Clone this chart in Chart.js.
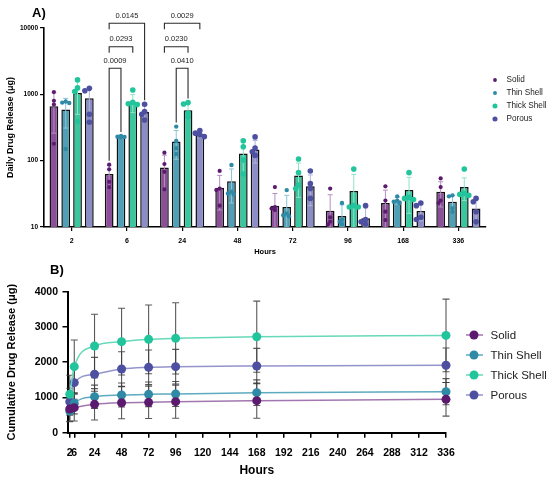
<!DOCTYPE html>
<html><head><meta charset="utf-8">
<script src="https://cdn.jsdelivr.net/npm/chart.js@4.4.0/dist/chart.umd.min.js"></script>
<style>
html,body{margin:0;padding:0;background:#fff;}
#wrap{width:550px;height:480px;position:relative;overflow:hidden;}
canvas{position:absolute;left:0;}
</style></head><body>
<div id="wrap">
<canvas id="chartA" width="550" height="262" style="top:0"></canvas>
<canvas id="chartB" width="550" height="218" style="top:262px"></canvas>
</div>
<script>
// ---------------- DATA ----------------
const seriesNames = ['Solid', 'Thin Shell', 'Thick Shell', 'Porous'];

// Panel A: daily release (log axis)
const hoursA = ['2', '6', '24', '48', '72', '96', '168', '336'];
const ticksA = [10, 100, 1000, 10000];
const dailyMeanSolid  = [660, 63, 79, 39, 21, 17.6, 23, 34];
const dailyMeanThin   = [590, 230, 195, 49, 20, 14.6, 25, 24];
const dailyMeanThick  = [1050, 760, 575, 128, 60, 35, 36, 40];
const dailyMeanPorous = [870, 540, 247, 147, 41, 13.5, 17.4, 19];
const dailySdSolid  = [400, 22, 42, 21, 11, 13, 13, 14];
const dailySdThin   = [280, 5, 90, 26, 10, 7, 3, 6];
const dailySdThick  = [550, 230, 150, 65, 32, 27, 20, 15];
const dailySdPorous = [380, 130, 25, 55, 20, 6, 5, 7];
const dailyPtsSolid  = [[1080,800,700,180],[87,74,48,40],[132,89,68,37],[70,38,36,21],[40,20,19,18],[38,14,12,11],[41,25,17,12.7],[54,40,25,23]];
const dailyPtsThin   = [[780,750,740,150],[235,230,228,225],[326,198,154,126],[86,34,32,31],[36,16,15,14.5],[23,13,12,11],[29,25,24,23],[30,29,19,17]];
const dailyPtsThick  = [[1650,1250,1100,390],[1160,760,720,700],[750,715,520,450],[200,162,102,63],[106,66,43,38],[75,21,20,20],[66,28,27,26],[75,32,31,30]];
const dailyPtsPorous = [[1230,1130,500,380],[710,550,500,410],[285,260,245,230],[228,155,136,120],[70,45,38,27],[21,13,12,11],[23,21,14,13],[27,24,17,12]];
// significance brackets: category index, series a, series b, label
const sigCats   = [1, 1, 1, 2, 2, 2];
const sigA      = [0, 0, 0, 0, 0, 1];
const sigB      = [3, 2, 1, 3, 2, 2];
const sigLabels = ['0.0145', '0.0293', '0.0009', '0.0029', '0.0230', '0.0410'];

// Panel B: cumulative release
const hoursB = [2, 6, 24, 48, 72, 96, 168, 336];
const ticksBx = [2, 6, 24, 48, 72, 96, 120, 144, 168, 192, 216, 240, 264, 288, 312, 336];
const cumSolid  = [672, 710, 805, 851, 862, 880, 908, 947];
const cumThin   = [615, 834, 1021, 1070, 1089, 1098, 1135, 1163];
const cumThick  = [1090, 1873, 2460, 2582, 2648, 2677, 2723, 2760];
const cumPorous = [880, 1420, 1657, 1807, 1855, 1873, 1892, 1912];
const cumSdSolid  = [360, 380, 445, 455, 460, 470, 500, 477];
const cumSdThin   = [290, 300, 330, 340, 350, 355, 365, 370];
const cumSdThick  = [540, 757, 900, 947, 975, 1011, 1010, 1030];
const cumSdPorous = [380, 470, 480, 490, 490, 490, 500, 490];

// ---------------- STYLE ----------------
const FAM = '"Liberation Sans", Arial, Helvetica, sans-serif';
const css = (s, w) => `${w || 'normal'} ${s}px ${FAM}`;
const dotCols  = ['#5c1a6f', '#2f8aa6', '#22c49b', '#4d4fa0'];
const barCols  = ['#8b4f99', '#4fa0b6', '#3ac79e', '#8c8dc6'];
const errCols  = ['#b48fc2', '#8cc5d5', '#8fe2ca', '#b2b3dc'];
const lineCols = ['#a277b0', '#5eaac0', '#66d9b8', '#9394cc'];
const dotR     = [2.1, 2.2, 2.8, 2.8];
Chart.defaults.font.family = FAM;

const meansA = [dailyMeanSolid, dailyMeanThin, dailyMeanThick, dailyMeanPorous];
const sdsA   = [dailySdSolid, dailySdThin, dailySdThick, dailySdPorous];
const ptsA   = [dailyPtsSolid, dailyPtsThin, dailyPtsThick, dailyPtsPorous];
const cumB   = [cumSolid, cumThin, cumThick, cumPorous];
const sdB    = [cumSdSolid, cumSdThin, cumSdThick, cumSdPorous];

// ---------------- PANEL A ----------------
const extrasA = {
  id: 'extrasA',
  afterDatasetsDraw(chart) {
    const ctx = chart.ctx, ys = chart.scales.y;
    chart.data.datasets.forEach((ds, di) => {
      const meta = chart.getDatasetMeta(di);
      meta.data.forEach((bar, i) => {
        const m = ds.data[i], sd = sdsA[di][i], x = bar.x;
        const yTop = ys.getPixelForValue(m + sd);
        const lowV = m - sd;
        const yBot = lowV > ys.min ? ys.getPixelForValue(lowV) : ys.bottom;
        ctx.save();
        ctx.strokeStyle = errCols[di]; ctx.lineWidth = 1;
        ctx.beginPath();
        ctx.moveTo(x, yBot); ctx.lineTo(x, yTop);
        ctx.moveTo(x - 2.5, yTop); ctx.lineTo(x + 2.5, yTop);
        if (lowV > ys.min) { ctx.moveTo(x - 2.5, yBot); ctx.lineTo(x + 2.5, yBot); }
        ctx.stroke();
        // replicate dots (compact beeswarm)
        const r = dotR[di];
        const vals = ptsA[di][i].slice().sort((a, b) => b - a);
        const placed = [];
        const offs = [0, -1, 1, -1.6, 1.6].map(k => k * r);
        vals.forEach(v => {
          const py = ys.getPixelForValue(v);
          let px = x;
          for (const o of offs) {
            const ok = placed.every(p => Math.hypot(p[0] - (x + o), p[1] - py) >= r * 1.4);
            if (ok) { px = x + o; break; }
          }
          placed.push([px, py]);
        });
        ctx.fillStyle = dotCols[di];
        placed.forEach(p => { ctx.beginPath(); ctx.arc(p[0], p[1], r, 0, Math.PI * 2); ctx.fill(); });
        ctx.restore();
      });
    });
  },
  afterDraw(chart) {
    const ctx = chart.ctx, ys = chart.scales.y, top = chart.chartArea.top;
    const levelY = [top - 4.7, top + 18.7, top + 40.3];
    const levels = [0, 1, 2, 0, 1, 2];
    const longA = [false, false, true, false, false, true];
    const longB = [true, false, true, false, false, true];
    ctx.save();
    ctx.strokeStyle = '#2a2a2a'; ctx.lineWidth = 1.1;
    ctx.fillStyle = '#222'; ctx.font = css(7.5);
    ctx.textAlign = 'center'; ctx.textBaseline = 'middle';
    const legEnd = (di, c, yl, long) => {
      if (!long) return yl + 6;
      const topV = Math.max(Math.max(...ptsA[di][c]), meansA[di][c] + sdsA[di][c]);
      return ys.getPixelForValue(topV) - 4;
    };
    sigLabels.forEach((lab, k) => {
      const c = sigCats[k];
      const xa = chart.getDatasetMeta(sigA[k]).data[c].x;
      const xb = chart.getDatasetMeta(sigB[k]).data[c].x;
      const yl = levelY[levels[k]];
      ctx.beginPath();
      ctx.moveTo(xa, legEnd(sigA[k], c, yl, longA[k]));
      ctx.lineTo(xa, yl); ctx.lineTo(xb, yl);
      ctx.lineTo(xb, legEnd(sigB[k], c, yl, longB[k]));
      ctx.stroke();
      ctx.fillText(lab, (xa + xb) / 2, yl - 7.5);
    });
    // legend
    ctx.textAlign = 'left';
    ctx.font = css(8.2);
    seriesNames.forEach((n, i) => {
      const y = 80 + i * 13;
      ctx.fillStyle = dotCols[i];
      ctx.beginPath(); ctx.arc(495, y, dotR[i] * 0.9, 0, Math.PI * 2); ctx.fill();
      ctx.fillStyle = '#222';
      ctx.fillText(n, 506.5, y);
    });
    // panel label
    ctx.font = css(13, 'bold'); ctx.fillStyle = '#000';
    ctx.fillText('A)', 32, 13);
    ctx.restore();
  }
};

new Chart(document.getElementById('chartA'), {
  type: 'bar',
  data: {
    labels: hoursA,
    datasets: seriesNames.map((n, i) => ({
      label: n, data: meansA[i],
      backgroundColor: barCols[i], borderColor: '#111', borderWidth: 1.5,
      categoryPercentage: 0.855, barPercentage: 0.74
    }))
  },
  options: {
    responsive: false, animation: false, events: [],
    layout: { padding: { left: 0, right: 64, top: 28, bottom: 0 } },
    plugins: { legend: { display: false }, tooltip: { enabled: false } },
    scales: {
      x: {
        grid: { display: true, drawOnChartArea: false, drawTicks: true, tickLength: 4, color: '#000', lineWidth: 1.2, offset: false },
        border: { color: '#000', width: 1.6 },
        ticks: { color: '#000', font: { size: 7, weight: 'bold' }, padding: 5.8, maxRotation: 0 },
        title: { display: true, text: 'Hours', color: '#000', font: { size: 7.5, weight: 'bold' }, padding: { top: 0, bottom: 5.5 } },
        afterFit: s => { s.height = 35; }
      },
      y: {
        type: 'logarithmic', min: 10, max: 10000,
        afterBuildTicks: s => { s.ticks = ticksA.map(v => ({ value: v })); },
        grid: { display: true, drawOnChartArea: false, drawTicks: true, tickLength: 4, color: '#000', lineWidth: 1.2 },
        border: { color: '#000', width: 1.6 },
        ticks: { color: '#000', font: { size: 6.5, weight: 'bold' }, padding: 2, callback: v => String(v) },
        title: { display: true, text: 'Daily Drug Release (μg)', color: '#000', font: { size: 9, weight: 'bold' }, padding: { top: 5.6, bottom: 0 } },
        afterFit: s => { s.width = 44; }
      }
    }
  },
  plugins: [extrasA]
});

// ---------------- PANEL B ----------------
const extrasB = {
  id: 'extrasB',
  beforeDatasetsDraw(chart) {
    const ctx = chart.ctx, ys = chart.scales.y;
    ctx.save();
    ctx.strokeStyle = 'rgba(60,60,60,0.85)'; ctx.lineWidth = 1.1;
    chart.data.datasets.forEach((ds, di) => {
      const meta = chart.getDatasetMeta(di);
      meta.data.forEach((pt, i) => {
        const m = cumB[di][i], sd = sdB[di][i], x = pt.x;
        const y1 = ys.getPixelForValue(m + sd), y0 = ys.getPixelForValue(m - sd);
        ctx.beginPath();
        ctx.moveTo(x, y0); ctx.lineTo(x, y1);
        ctx.moveTo(x - 3.5, y1); ctx.lineTo(x + 3.5, y1);
        ctx.moveTo(x - 3.5, y0); ctx.lineTo(x + 3.5, y0);
        ctx.stroke();
      });
    });
    ctx.restore();
  },
  afterDraw(chart) {
    const ctx = chart.ctx;
    ctx.save();
    ctx.textAlign = 'left'; ctx.textBaseline = 'middle';
    ctx.font = css(11.5);
    seriesNames.forEach((n, i) => {
      const y = 73 + i * 20;
      ctx.strokeStyle = lineCols[i]; ctx.lineWidth = 1.5;
      ctx.beginPath(); ctx.moveTo(466, y); ctx.lineTo(483, y); ctx.stroke();
      ctx.fillStyle = dotCols[i];
      ctx.beginPath(); ctx.arc(474, y, 4.5, 0, Math.PI * 2); ctx.fill();
      ctx.fillStyle = '#222';
      ctx.fillText(n, 490.5, y + 0.5);
    });
    ctx.font = css(13, 'bold'); ctx.fillStyle = '#000';
    ctx.fillText('B)', 50, 8);
    ctx.restore();
  }
};

new Chart(document.getElementById('chartB'), {
  type: 'line',
  data: {
    datasets: seriesNames.map((n, i) => ({
      label: n,
      data: hoursB.map((h, k) => ({ x: h, y: cumB[i][k] })),
      borderColor: lineCols[i], borderWidth: 1.5,
      backgroundColor: dotCols[i], pointBackgroundColor: dotCols[i], pointBorderColor: dotCols[i],
      pointRadius: 4.5, pointBorderWidth: 0, cubicInterpolationMode: 'monotone', clip: false
    }))
  },
  options: {
    responsive: false, animation: false, events: [],
    layout: { padding: { left: 0, right: 104, top: 29.7, bottom: 0 } },
    plugins: { legend: { display: false }, tooltip: { enabled: false } },
    scales: {
      x: {
        type: 'linear', min: 0, max: 336,
        afterBuildTicks: s => { s.ticks = ticksBx.map(v => ({ value: v })); },
        grid: { display: true, drawOnChartArea: false, drawTicks: true, tickLength: 5, color: '#000', lineWidth: 1.5 },
        border: { color: '#000', width: 2 },
        ticks: { color: '#000', font: { size: 10.5, weight: 'bold' }, padding: 9, maxRotation: 0, autoSkip: false, callback: v => String(v) },
        title: { display: true, text: 'Hours', color: '#000', font: { size: 12, weight: 'bold' }, padding: { top: 0, bottom: 1.8 } },
        afterFit: s => { s.height = 47.3; }
      },
      y: {
        min: 0, max: 4000,
        ticks: { stepSize: 1000, color: '#000', font: { size: 10.5, weight: 'bold' }, padding: 4.5, callback: v => String(v) },
        grid: { display: true, drawOnChartArea: false, drawTicks: true, tickLength: 5, color: '#000', lineWidth: 1.5 },
        border: { color: '#000', width: 2 },
        title: { display: true, text: 'Cumulative Drug Release (μg)', color: '#000', font: { size: 11, weight: 'bold' }, padding: { top: 5.4, bottom: 0 } },
        afterFit: s => { s.width = 67.5; }
      }
    }
  },
  plugins: [extrasB]
});
</script>
</body></html>
